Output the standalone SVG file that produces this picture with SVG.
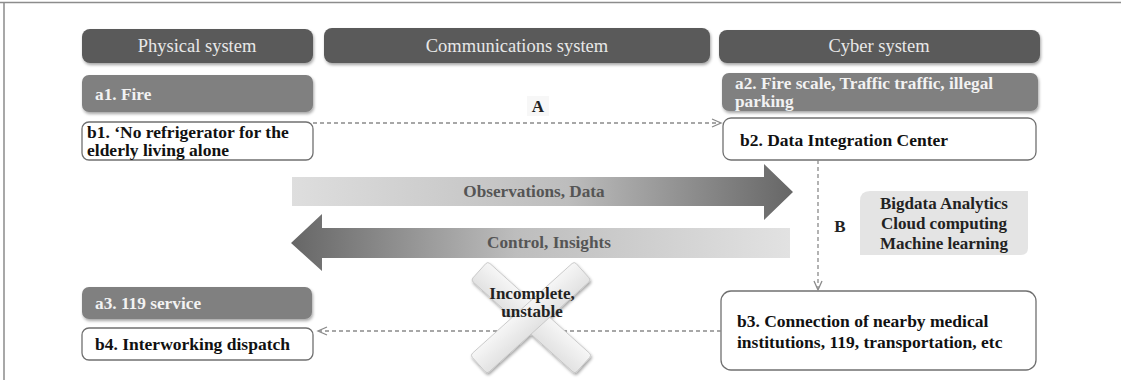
<svg xmlns="http://www.w3.org/2000/svg" width="1121" height="380" viewBox="0 0 1121 380">
  <style>
    .hdr { fill: #5a5a5a; filter: url(#shadow); }
    .hdr-t { font-family: "Liberation Serif", serif; font-size: 18.5px; fill: #e8e8e8; text-anchor: middle; }
    .abox { fill: #808080; filter: url(#shadow); }
    .abox-t { font-family: "Liberation Serif", serif; font-weight: bold; font-size: 17.3px; fill: #f2f2f2; }
    .bbox { fill: #ffffff; stroke: #707070; stroke-width: 1.3; }
    .bbox-t { font-family: "Liberation Serif", serif; font-weight: bold; font-size: 17.5px; fill: #111; }
    .lbl { font-family: "Liberation Serif", serif; font-weight: bold; font-size: 17px; fill: #222; text-anchor: middle; }
    .dash { fill: none; stroke: #8a8a8a; stroke-width: 1.3; stroke-dasharray: 4 3; }
    .head { fill: none; stroke: #8a8a8a; stroke-width: 1.3; }
    .flow-t { font-family: "Liberation Serif", serif; font-weight: bold; font-size: 17.2px; fill: #555; text-anchor: middle; }
  </style>
  <defs>
    <filter id="shadow" x="-10%" y="-20%" width="120%" height="160%">
      <feDropShadow dx="1" dy="2" stdDeviation="1.5" flood-color="#000" flood-opacity="0.35"/>
    </filter>
    <linearGradient id="gradRight" x1="0" y1="0" x2="1" y2="0">
      <stop offset="0" stop-color="#dedede"/>
      <stop offset="0.55" stop-color="#bdbdbd"/>
      <stop offset="1" stop-color="#666666"/>
    </linearGradient>
    <linearGradient id="gradLeft" x1="0" y1="0" x2="1" y2="0">
      <stop offset="0" stop-color="#666666"/>
      <stop offset="0.45" stop-color="#bdbdbd"/>
      <stop offset="1" stop-color="#e2e2e2"/>
    </linearGradient>
    <linearGradient id="gradBar" x1="0" y1="0" x2="0" y2="1">
      <stop offset="0" stop-color="#f6f6f6"/>
      <stop offset="1" stop-color="#e2e2e2"/>
    </linearGradient>
  </defs>

  <!-- frame -->
  <path d="M0,2.5 H1121 M4,2.5 V380" fill="none" stroke="#8c8c8c" stroke-width="1.5"/>

  <!-- column headers -->
  <g id="hdr-physical">
    <rect class="hdr" x="82" y="29" width="231" height="34" rx="8"/>
    <text class="hdr-t" x="197" y="52">Physical system</text>
  </g>
  <g id="hdr-comm">
    <rect class="hdr" x="324" y="28" width="386" height="35" rx="8"/>
    <text class="hdr-t" x="517" y="52">Communications system</text>
  </g>
  <g id="hdr-cyber">
    <rect class="hdr" x="719" y="30" width="321" height="33" rx="8"/>
    <text class="hdr-t" x="879" y="52">Cyber system</text>
  </g>

  <!-- physical side -->
  <g id="a1">
    <rect class="abox" x="82" y="75" width="231" height="37" rx="7"/>
    <text class="abox-t" x="95" y="100">a1.  Fire</text>
  </g>
  <g id="b1">
    <rect class="bbox" x="82" y="122" width="231" height="38" rx="7"/>
    <text class="bbox-t" x="87" y="138" font-size="16.8">b1. ‘No refrigerator for the</text>
    <text class="bbox-t" x="87" y="156" font-size="16.8">elderly living alone</text>
  </g>
  <g id="a3">
    <rect class="abox" x="82" y="287" width="230" height="32" rx="7"/>
    <text class="abox-t" x="95" y="309">a3. 119 service</text>
  </g>
  <g id="b4">
    <rect class="bbox" x="82" y="328" width="231" height="32" rx="7"/>
    <text class="bbox-t" x="95" y="350">b4. Interworking dispatch</text>
  </g>

  <!-- cyber side -->
  <g id="a2">
    <rect class="abox" x="722" y="73" width="316" height="38" rx="7"/>
    <text class="abox-t" x="735" y="89">a2. Fire scale, Traffic traffic, illegal</text>
    <text class="abox-t" x="735" y="107">parking</text>
  </g>
  <g id="b2">
    <rect class="bbox" x="723" y="118" width="313" height="42" rx="8"/>
    <text class="bbox-t" x="740" y="146">b2. Data Integration Center</text>
  </g>
  <g id="analytics">
    <path d="M870,191 H1028 V248 Q1028,255 1021,255 H860 V201 Q860,191 870,191 Z" fill="#e4e4e4"/>
    <text class="lbl" x="944" y="209" font-size="18.5">Bigdata Analytics</text>
    <text class="lbl" x="944" y="229" font-size="18.5">Cloud computing</text>
    <text class="lbl" x="944" y="249" font-size="18.5">Machine learning</text>
  </g>
  <g id="b3">
    <rect class="bbox" x="721" y="291" width="315" height="79" rx="10"/>
    <text class="bbox-t" x="737" y="327">b3. Connection of nearby medical</text>
    <text class="bbox-t" x="737" y="348">institutions, 119, transportation, etc</text>
  </g>

  <!-- flows between the systems -->
  <g id="flow-observations">
    <path d="M292,177 H764 V164 L793,192 L764,220 V206 H292 Z" fill="url(#gradRight)"/>
    <text class="flow-t" x="534" y="197">Observations, Data</text>
  </g>
  <g id="flow-control">
    <path d="M790,228 H322 V214 L291,243 L322,271 V258 H790 Z" fill="url(#gradLeft)"/>
    <text class="flow-t" x="549" y="248">Control, Insights</text>
  </g>

  <!-- connectors -->
  <g id="connectors">
    <path class="dash" d="M313,123 H720"/>
    <path class="head" d="M712,119 L721,123 L712,127"/>
    <rect x="527" y="96" width="22" height="20" fill="#f7f7f7"/>
    <text class="lbl" x="538" y="112">A</text>

    <path class="dash" d="M818,160 V288"/>
    <path class="head" d="M814,281 L818,290 L822,281"/>
    <text class="lbl" x="840" y="232" fill="#444">B</text>

    <path class="dash" d="M721,331 H319"/>
    <path class="head" d="M327,327 L318,331 L327,335"/>
    <text class="lbl" x="562" y="353" font-weight="normal" fill="#555">C</text>
  </g>

  <!-- broken link marker -->
  <g id="broken-link">
    <g filter="url(#shadow)">
      <rect x="461" y="305" width="140" height="25" rx="3" fill="url(#gradBar)" stroke="#c4c4c4" stroke-width="0.8" transform="rotate(42 531 318)"/>
      <rect x="461" y="305" width="140" height="25" rx="3" fill="url(#gradBar)" stroke="#c4c4c4" stroke-width="0.8" transform="rotate(-42 531 318)"/>
    </g>
    <text class="lbl" x="532" y="299" fill="#111">Incomplete,</text>
    <text class="lbl" x="532" y="317" fill="#111">unstable</text>
  </g>
</svg>
